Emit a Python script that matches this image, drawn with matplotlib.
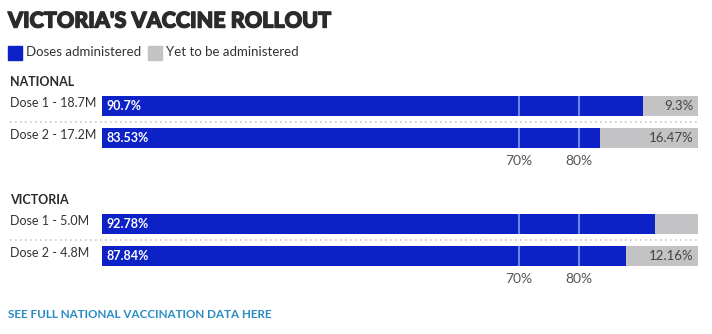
import matplotlib
matplotlib.use("Agg")
import matplotlib.pyplot as plt
from matplotlib import transforms
import matplotlib.patheffects as pe

# data
groups = ["NATIONAL", "VICTORIA"]
row_labels = [["Dose 1 - 18.7M", "Dose 2 - 17.2M"],
              ["Dose 1 - 5.0M", "Dose 2 - 4.8M"]]
administered = [[90.7, 83.53], [92.78, 87.84]]
admin_labels = [["90.7%", "83.53%"], ["92.78%", "87.84%"]]
remaining_labels = [["9.3%", "16.47%"], ["", "12.16%"]]
targets = [70, 80]
target_labels = ["70%", "80%"]

BLUE = "#0c21c6"
GREY = "#c3c3c5"
LINE = "#6a86ee"
W, H = 712, 334

fig = plt.figure(figsize=(W / 100, H / 100), dpi=100)
fig.patch.set_facecolor("white")
FONT = ["Lato", "DejaVu Sans"]


def fx(px):
    return px / W


def fy(py):
    return 1 - py / H


fig.text(fx(8), fy(21), "VICTORIA'S VACCINE ROLLOUT", fontsize=15.5,
         fontweight="black", color="#2b2b2b", va="center", ha="left", family=FONT,
         path_effects=[pe.withStroke(linewidth=1.0, foreground="#2b2b2b")])

# legend
fig.patches.append(plt.Rectangle((fx(8), fy(60)), fx(14), 14 / H, color=BLUE,
                                 transform=fig.transFigure, figure=fig))
fig.text(fx(26), fy(52), "Doses administered", fontsize=9.5, color="#333333",
         va="center", family=FONT)
fig.patches.append(plt.Rectangle((fx(148), fy(60)), fx(14), 14 / H, color=GREY,
                                 transform=fig.transFigure, figure=fig))
fig.text(fx(166), fy(52), "Yet to be administered", fontsize=9.5, color="#333333",
         va="center", family=FONT)

# pixel tops of each group's bar block
block_tops = [96, 214]
header_y = [82, 200]

for g, top in enumerate(block_tops):
    ax = fig.add_axes([fx(102), fy(top + 52), fx(698) - fx(102), 52 / H])
    ypos = [1, 0]
    vals = administered[g]
    rest = [100 - v for v in vals]
    ax.barh(ypos, vals, height=0.625, color=BLUE, zorder=2)
    ax.barh(ypos, rest, left=vals, height=0.625, color=GREY, zorder=2)
    for y, v in zip(ypos, vals):
        for t in targets:
            if t < v:
                ax.vlines(t, y - 0.3125, y + 0.3125, color=LINE, lw=1.5, zorder=3)
    ax.set_xlim(0, 100)
    ax.set_ylim(-0.3125, 1.3125)
    ax.set_xticks(targets)
    ax.set_xticklabels(target_labels)
    ax.tick_params(axis="x", length=0, pad=5, labelsize=10, labelcolor="#555555")
    for lab in ax.get_xticklabels():
        lab.set_family(FONT)
    ax.set_yticks([])
    for s in ax.spines.values():
        s.set_visible(False)
    ax.patch.set_alpha(0)

    for y, lab, rl in zip(ypos, admin_labels[g], remaining_labels[g]):
        ax.text(0.8, y, lab, color="white", fontsize=9, fontweight="bold",
                va="center", ha="left", family=FONT, zorder=4)
        if rl:
            ax.text(99.3, y, rl, color="#444444", fontsize=9.5, va="center",
                    ha="right", family=FONT, zorder=4)

    tr = transforms.blended_transform_factory(fig.transFigure, ax.transData)
    for y, rl in zip(ypos, row_labels[g]):
        ax.text(fx(10), y + 0.1, rl, transform=tr, fontsize=9, color="#333333",
                va="center", ha="left", family=FONT, clip_on=False)
    ax.plot([fx(10), fx(700)], [0.5, 0.5], transform=tr, color="#c8c8c8",
            lw=1.2, linestyle=(0, (1, 2)), clip_on=False)

    fig.text(fx(10), fy(header_y[g]), groups[g], fontsize=9, fontweight="bold",
             color="#2b2b2b", va="center", family=FONT)

fig.text(fx(8), fy(314), "SEE FULL NATIONAL VACCINATION DATA HERE", fontsize=8.4,
         fontweight="bold", color="#2a8bc4", va="center", family=FONT)

fig.savefig("out.png", dpi=100)
